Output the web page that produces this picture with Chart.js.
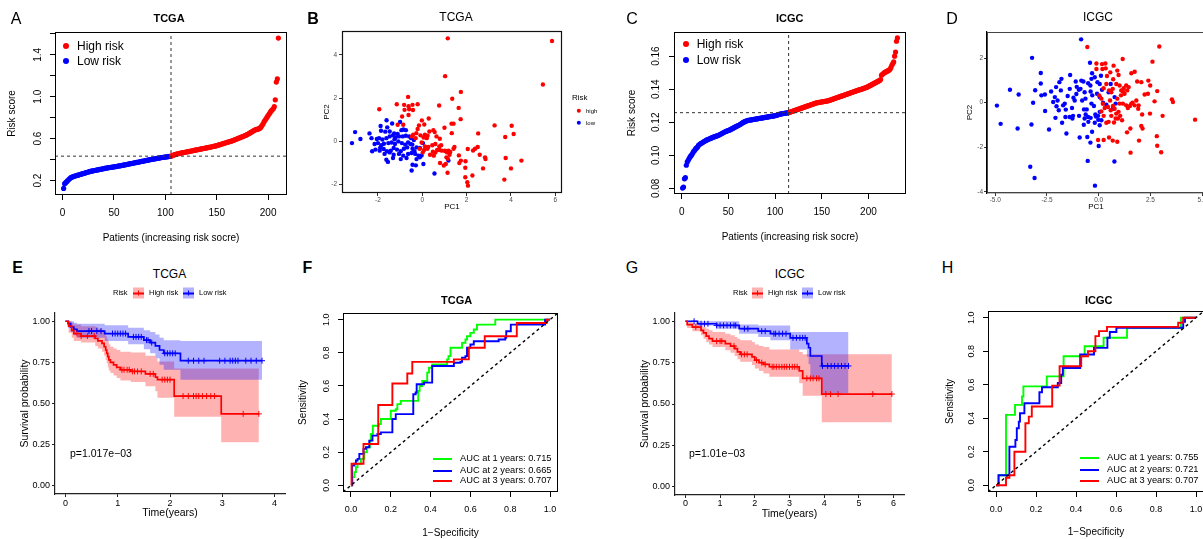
<!DOCTYPE html>
<html>
<head>
<meta charset="utf-8">
<title>Risk model panels</title>
<script src="https://cdn.jsdelivr.net/npm/chart.js@4.4.0/dist/chart.umd.min.js"></script>
<style>
  body { margin:0; width:1203px; height:539px; overflow:hidden; background:#fff; position:relative;
         font-family:"Liberation Sans", Arial, sans-serif; color:#000; }
  canvas { position:absolute; }
  .c { position:absolute; transform:translate(-50%,-50%); white-space:nowrap; line-height:1; }
  .l { position:absolute; transform:translateY(-50%); white-space:nowrap; line-height:1; }
  .let { font-size:16px; }
  .bt { font-size:11px; font-weight:bold; }
  .gt { font-size:12px; }
  .dot { position:absolute; border-radius:50%; transform:translate(-50%,-50%); }
  .key { position:absolute; width:11px; height:11px; transform:translateY(-50%); }
  .key i { position:absolute; left:0; right:0; top:5px; height:1.5px; }
  .key b { position:absolute; left:5px; top:3px; width:1px; height:5px; }
  .seg { position:absolute; width:19px; height:2px; }
</style>
</head>
<body>
<canvas id="cA"></canvas>
<canvas id="cB"></canvas>
<canvas id="cC"></canvas>
<canvas id="cD"></canvas>
<canvas id="cE"></canvas>
<canvas id="cF"></canvas>
<canvas id="cG"></canvas>
<canvas id="cH"></canvas>

<!-- panel letters -->
<div class="c let" style="left:16px;top:18.5px">A</div>
<div class="c let" style="left:313px;top:18.7px;font-weight:bold">B</div>
<div class="c let" style="left:632px;top:18.5px">C</div>
<div class="c let" style="left:952px;top:18.5px">D</div>
<div class="c let" style="left:17.5px;top:268px;font-weight:bold">E</div>
<div class="c let" style="left:307.5px;top:268px;font-weight:bold">F</div>
<div class="c let" style="left:632px;top:268px">G</div>
<div class="c let" style="left:947.5px;top:268px">H</div>

<!-- titles -->
<div class="c bt" style="left:169px;top:18px">TCGA</div>
<div class="c gt" style="left:456px;top:17.3px">TCGA</div>
<div class="c bt" style="left:789.7px;top:18px">ICGC</div>
<div class="c gt" style="left:1098px;top:17.3px">ICGC</div>
<div class="c gt" style="left:169.5px;top:274px">TCGA</div>
<div class="c bt" style="left:456.7px;top:300px">TCGA</div>
<div class="c gt" style="left:789.7px;top:274px">ICGC</div>
<div class="c bt" style="left:1098.7px;top:300px">ICGC</div>

<!-- A / C legends -->
<div class="dot" style="left:66px;top:45.7px;width:6px;height:6px;background:#f00"></div>
<div class="l" style="left:77px;top:46px;font-size:12px">High risk</div>
<div class="dot" style="left:66px;top:61px;width:6px;height:6px;background:#00f"></div>
<div class="l" style="left:77px;top:61px;font-size:12px">Low risk</div>
<div class="dot" style="left:685.7px;top:44.3px;width:6px;height:6px;background:#f00"></div>
<div class="l" style="left:696.7px;top:44.3px;font-size:12px">High risk</div>
<div class="dot" style="left:685.7px;top:60px;width:6px;height:6px;background:#00f"></div>
<div class="l" style="left:696.7px;top:60px;font-size:12px">Low risk</div>

<!-- B legend -->
<div class="l" style="left:572px;top:98px;font-size:8px">Risk</div>
<div class="dot" style="left:578.7px;top:111px;width:4.4px;height:4.4px;background:#f00"></div>
<div class="l" style="left:586px;top:111px;font-size:6px">high</div>
<div class="dot" style="left:578.7px;top:123px;width:4.4px;height:4.4px;background:#00f"></div>
<div class="l" style="left:586px;top:123px;font-size:6px">low</div>

<!-- E / G legends -->
<div class="l" style="left:113px;top:293px;font-size:7.5px">Risk</div>
<div class="key" style="left:133px;top:293px;background:rgba(255,0,0,0.3)"><i style="background:#f00"></i><b style="background:#f00"></b></div>
<div class="l" style="left:149px;top:293px;font-size:7.5px">High risk</div>
<div class="key" style="left:183px;top:293px;background:rgba(0,0,255,0.3)"><i style="background:#00f"></i><b style="background:#00f"></b></div>
<div class="l" style="left:199px;top:293px;font-size:7.5px">Low risk</div>
<div class="l" style="left:733px;top:293px;font-size:7.5px">Risk</div>
<div class="key" style="left:752px;top:293px;background:rgba(255,0,0,0.3)"><i style="background:#f00"></i><b style="background:#f00"></b></div>
<div class="l" style="left:768px;top:293px;font-size:7.5px">High risk</div>
<div class="key" style="left:802px;top:293px;background:rgba(0,0,255,0.3)"><i style="background:#00f"></i><b style="background:#00f"></b></div>
<div class="l" style="left:818px;top:293px;font-size:7.5px">Low risk</div>

<div class="l" style="left:70px;top:453px;font-size:10.5px">p=1.017e&minus;03</div>
<div class="l" style="left:689px;top:453px;font-size:10.5px">p=1.01e&minus;03</div>

<!-- ROC legends -->
<div class="seg" style="left:433px;top:458px;background:#0f0"></div>
<div class="l" style="left:460px;top:459px;font-size:9.3px">AUC at 1 years: 0.715</div>
<div class="seg" style="left:433px;top:470px;background:#00f"></div>
<div class="l" style="left:460px;top:470.7px;font-size:9.3px">AUC at 2 years: 0.665</div>
<div class="seg" style="left:433px;top:480px;background:#f00"></div>
<div class="l" style="left:460px;top:480.7px;font-size:9.3px">AUC at 3 years: 0.707</div>
<div class="seg" style="left:1080px;top:457px;background:#0f0"></div>
<div class="l" style="left:1107px;top:458px;font-size:9.3px">AUC at 1 years: 0.755</div>
<div class="seg" style="left:1080px;top:469px;background:#00f"></div>
<div class="l" style="left:1107px;top:470px;font-size:9.3px">AUC at 2 years: 0.721</div>
<div class="seg" style="left:1080px;top:480px;background:#f00"></div>
<div class="l" style="left:1107px;top:480.7px;font-size:9.3px">AUC at 3 years: 0.707</div>

<script>
// ---------- A: TCGA risk score (sorted) ----------
var aRisk = [
  0.125,0.17,0.18,0.19,0.20,0.21,0.22,0.228,0.232,0.236,
  0.24,0.243,0.246,0.249,0.252,0.255,0.258,0.261,0.264,0.267,
  0.27,0.273,0.276,0.279,0.282,0.285,0.288,0.29,0.292,0.294,
  0.296,0.298,0.3,0.302,0.304,0.306,0.308,0.31,0.312,0.314,
  0.316,0.318,0.32,0.322,0.323,0.325,0.326,0.328,0.329,0.331,
  0.333,0.334,0.336,0.338,0.34,0.341,0.343,0.345,0.347,0.349,
  0.351,0.353,0.355,0.357,0.359,0.361,0.363,0.365,0.367,0.369,
  0.371,0.373,0.375,0.377,0.379,0.381,0.383,0.385,0.387,0.389,
  0.391,0.393,0.395,0.397,0.399,0.401,0.403,0.405,0.406,0.408,
  0.41,0.412,0.414,0.415,0.417,0.419,0.42,0.422,0.423,0.425,
  0.426,0.428,0.429,0.431,0.432,0.435,0.439,0.443,0.447,0.45,
  0.453,0.456,0.458,0.46,0.462,0.464,0.466,0.468,0.47,0.472,
  0.474,0.476,0.478,0.48,0.482,0.484,0.486,0.488,0.49,0.492,
  0.494,0.496,0.498,0.5,0.502,0.504,0.506,0.508,0.51,0.512,
  0.514,0.516,0.518,0.52,0.522,0.524,0.526,0.528,0.531,0.534,
  0.537,0.54,0.543,0.546,0.549,0.552,0.555,0.558,0.561,0.564,
  0.567,0.57,0.573,0.576,0.579,0.583,0.587,0.591,0.595,0.599,
  0.603,0.607,0.611,0.615,0.619,0.623,0.627,0.631,0.636,0.641,
  0.646,0.652,0.658,0.664,0.67,0.676,0.682,0.686,0.688,0.69,
  0.695,0.70,0.71,0.725,0.74,0.76,0.775,0.79,0.805,0.82,
  0.835,0.85,0.865,0.875,0.885,0.905,0.97,1.14,1.17,1.56
];
var aCut = 105;          // patients 1..105 low risk
var aCutLine = [105.5, 0.433];
var aXTicks = [0, 50, 100, 150, 200];
var aXLabels = ['0', '50', '100', '150', '200'];
var aYTicks = [0.2, 0.4, 0.6, 0.8, 1.0, 1.2, 1.4, 1.6];
var aYLabels = ['0.2', '', '0.6', '', '1.0', '', '1.4', ''];

// ---------- C: ICGC risk score (sorted) ----------
var cRisk = [
  0.0802,0.0808,0.0858,0.0865,0.0940,0.0960,0.0970,0.0980,0.0990,0.0998,
  0.1005,0.1015,0.1025,0.1030,0.1040,0.1045,0.1050,0.1060,0.1065,0.1070,
  0.1073,0.1076,0.1080,0.1083,0.1086,0.1090,0.1093,0.1095,0.1098,0.1100,
  0.1102,0.1105,0.1108,0.1110,0.1112,0.1114,0.1116,0.1118,0.1120,0.1123,
  0.1126,0.1129,0.1132,0.1135,0.1138,0.1141,0.1144,0.1146,0.1148,0.1150,
  0.1152,0.1155,0.1158,0.1161,0.1164,0.1167,0.1170,0.1173,0.1176,0.1179,
  0.1182,0.1185,0.1188,0.1192,0.1196,0.1199,0.1202,0.1205,0.1207,0.1209,
  0.1211,0.1212,0.1213,0.1214,0.1215,0.1216,0.1217,0.1218,0.1219,0.1220,
  0.1221,0.1222,0.1223,0.1224,0.1225,0.1226,0.1227,0.1228,0.1229,0.1230,
  0.1231,0.1232,0.1233,0.1234,0.1235,0.1236,0.1237,0.1238,0.1239,0.1240,
  0.1241,0.1243,0.1245,0.1247,0.1249,0.1250,0.1251,0.1252,0.1253,0.1254,
  0.1255,0.1256,0.1257,0.1258,0.1259,0.1261,0.1263,0.1265,0.1267,0.1269,
  0.1271,0.1273,0.1275,0.1277,0.1279,0.1281,0.1283,0.1285,0.1287,0.1289,
  0.1291,0.1293,0.1295,0.1297,0.1299,0.1301,0.1303,0.1305,0.1307,0.1309,
  0.1311,0.1313,0.1315,0.1317,0.1318,0.1319,0.1320,0.1321,0.1322,0.1323,
  0.1324,0.1325,0.1326,0.1327,0.1328,0.1329,0.1330,0.1332,0.1334,0.1336,
  0.1338,0.1340,0.1342,0.1344,0.1346,0.1348,0.1350,0.1352,0.1354,0.1356,
  0.1358,0.1360,0.1362,0.1364,0.1366,0.1368,0.1370,0.1372,0.1374,0.1376,
  0.1378,0.1380,0.1382,0.1384,0.1386,0.1388,0.1390,0.1392,0.1394,0.1396,
  0.1397,0.1399,0.1401,0.1403,0.1405,0.1407,0.1409,0.1411,0.1414,0.1417,
  0.1420,0.1423,0.1426,0.1429,0.1432,0.1435,0.1438,0.1441,0.1444,0.1447,
  0.1450,0.1453,0.1458,0.1485,0.1490,0.1495,0.1500,0.1503,0.1506,0.1509,
  0.1512,0.1515,0.1520,0.1530,0.1545,0.1555,0.1565,0.1600,0.1625,0.1690,0.1710
];
var cCut = 115;
var cCutLine = [114.5, 0.1258];
var cXTicks = [0, 50, 100, 150, 200];
var cXLabels = ['0', '50', '100', '150', '200'];
var cYTicks = [0.08, 0.10, 0.12, 0.14, 0.16];
var cYLabels = ['0.08', '0.10', '0.12', '0.14', '0.16'];

// ---------- B: TCGA PCA ----------
var bHigh = [[1.15,4.77],[5.85,4.65],[5.44,2.63],[1.03,3.02],[1.74,2.29],[1.35,1.97],[0.76,1.66],[1.64,1.55],[1.73,1.03],
  [1.32,0.82],[1.41,0.82],[1.33,0.38],[1.0,0.63],[3.26,0.74],[4.03,0.72],[3.74,0.2],[4.12,0.34],[2.52,0.37],[4.47,-0.89],
  [3.76,-0.77],[4.0,-1.25],[3.7,-1.77],[2.74,-1.25],[2.83,-0.74],[2.85,-0.82],[2.59,-0.62],[2.5,-0.26],[2.38,-0.34],
  [2.29,-0.42],[2.05,-0.35],[2.26,-1.58],[1.94,-1.22],[1.94,-1.66],[2.03,-1.89],[2.06,-2.05],[1.74,-0.89],[1.67,-1.0],
  [1.95,-0.92],[1.65,-0.65],[1.45,-0.26],[1.41,-0.34],[1.12,-0.51],[1.05,-0.46],[1.02,-0.43],[0.88,-0.43],[0.77,-0.4],
  [1.18,-0.43],[1.26,-0.49],[0.8,-1.0],[1.06,-1.05],[0.97,-1.12],[1.14,-1.45],[1.09,-0.74],[1.23,-0.62],[1.15,-0.8],
  [-0.59,1.49],[-0.64,2.06],[-1.15,1.72],[-0.82,1.69],[-0.62,1.63],[-0.44,1.69],[-0.21,1.72],[-0.8,1.46],[-0.42,1.45],
  [-1.94,1.49],[-0.91,1.15],[-0.62,1.22],[-1.11,0.77],[-0.86,0.77],[-0.02,0.97],[0.09,0.78],[-0.15,0.74],[0.29,1.06],
  [-0.21,0.57],[-0.27,0.38],[-0.41,0.31],[-0.47,0.23],[-0.08,0.28],[-0.3,0.15],[0.12,0.31],[0.24,0.26],[0.2,0.15],
  [0.06,0.18],[0.32,0.46],[0.5,0.52],[0.79,0.12],[0.64,0.23],[0.56,0.43],[-0.03,-0.05],[0.12,-0.23],[0.27,-0.26],
  [0.45,-0.18],[0.59,-0.12],[0.08,-0.4],[0.23,-0.34],[0.35,-0.62],[0.48,-0.48],[0.59,-0.52],[0.67,-0.4],[0.52,-0.66],
  [0.02,-0.51],[-0.12,-0.34],[0.77,-0.23],[0.85,-0.18]];
var bLow = [[-3.17,-0.08],[-3.03,0.43],[-2.79,0.11],[-2.38,0.37],[-2.29,0.15],[-1.88,0.71],[-1.86,0.49],[-1.67,0.45],
  [-1.58,0.65],[-1.61,0.98],[-1.36,0.83],[-1.47,0.46],[-1.27,0.37],[-1.11,0.34],[-0.94,0.52],[-2.05,0.11],[-1.95,0.15],
  [-1.8,0.09],[-1.62,0.15],[-1.47,0.23],[-1.32,0.28],[-1.21,0.18],[-1.05,0.23],[-0.88,0.23],[-0.74,0.26],[-0.59,0.23],
  [-0.5,0.15],[-0.38,0.06],[-2.15,-0.12],[-2.0,-0.08],[-1.85,-0.18],[-1.73,-0.11],[-1.53,-0.08],[-1.38,-0.05],
  [-1.23,-0.12],[-1.08,0.0],[-0.92,-0.08],[-0.77,-0.15],[-0.64,-0.05],[-0.53,-0.12],[-2.26,-0.46],[-2.11,-0.38],
  [-1.92,-0.43],[-1.74,-0.35],[-1.59,-0.46],[-1.42,-0.43],[-1.29,-0.31],[-1.14,-0.38],[-0.97,-0.46],[-0.83,-0.34],
  [-0.68,-0.28],[-0.44,-0.34],[-0.26,-0.28],[-0.11,-0.31],[0.03,-0.08],[-1.7,-0.58],[-1.47,-0.51],[-1.29,-0.62],
  [-1.05,-0.58],[-0.86,-0.66],[-0.64,-0.58],[-0.48,-0.54],[-0.32,-0.58],[-0.17,-0.66],[-0.03,-0.65],[-1.62,-0.85],
  [-1.55,-0.95],[-1.32,-0.77],[-0.97,-0.82],[-0.71,-0.77],[-0.26,-0.82],[-0.11,-0.74],[-0.44,-1.08],[-0.29,-1.11],
  [0.05,-1.05],[-0.48,-1.35],[0.55,-1.49],[1.18,-0.89],[-0.74,0.52],[-1.0,0.9],[-0.85,0.55],[-1.25,0.1],[-0.45,-0.15],
  [-1.9,-0.3],[-0.35,-0.45]];
var bXTicks = [-2, 0, 2, 4, 6], bXLabels = ['-2', '0', '2', '4', '6'];
var bYTicks = [-2, 0, 2, 4], bYLabels = ['-2', '0', '2', '4'];

// ---------- D: ICGC PCA ----------
var dLow = [[-0.85,2.84],[-3.22,2.01],[-4.92,-0.13],[-4.74,-0.95],[-4.29,0.58],[-3.87,0.37],[-3.92,-1.16],[-3.25,-0.98],
  [-3.17,0.0],[-3.07,0.56],[-3.31,-2.87],[-3.1,-3.38],[-2.8,1.33],[-2.8,0.86],[-2.77,0.33],[-2.6,0.37],[-2.59,-0.37],
  [-2.4,-1.2],[-2.09,-0.68],[-2.04,-0.16],[-2.2,0.03],[-2.12,0.25],[-1.99,0.1],[-2.06,0.7],[-1.9,0.92],[-1.8,1.07],
  [-1.83,0.55],[-1.72,-0.12],[-1.64,-0.04],[-1.93,-0.34],[-1.77,-0.9],[-1.56,-1.38],[-1.61,-0.64],[-1.59,-0.31],
  [-1.4,0.62],[-1.38,1.24],[-1.29,-0.24],[-1.22,0.22],[-1.16,0.1],[-1.11,0.95],[-1.06,0.71],[-1.08,0.39],[-1.24,-0.59],
  [-1.41,-0.64],[-1.27,-0.71],[-0.92,-1.56],[-0.95,-0.59],[-0.96,0.58],[-0.88,0.62],[-0.84,0.99],[-0.74,0.95],
  [-0.68,0.47],[-0.64,0.18],[-0.71,-0.3],[-0.63,-0.53],[-0.72,-0.99],[-0.68,-0.71],[-0.51,0.87],[-0.4,0.77],[-0.32,1.32],
  [-0.35,1.07],[-0.39,0.5],[-0.31,0.33],[-0.23,-0.15],[-0.35,-0.04],[-0.58,-0.3],[-0.51,-0.64],[-0.5,-0.86],[-0.39,-0.68],
  [-0.32,-1.3],[-0.19,-0.9],[-0.13,-0.62],[-0.16,-0.53],[-0.03,-0.59],[0.05,-1.01],[-0.02,-0.77],[-0.55,-1.54],
  [-0.53,-2.61],[-0.4,-1.79],[0.0,-1.94],[-0.18,-3.72],[0.76,-2.64],[-0.42,1.79],[-0.19,1.14],[-0.06,0.92],[0.05,0.84],
  [0.11,1.21],[0.16,0.58],[-0.08,0.4],[0.05,0.25],[0.21,0.0],[0.37,-0.09],[0.48,0.47],[0.58,0.84],[0.77,0.25],
  [0.82,-0.04],[0.68,-0.27],[0.05,-0.41],[0.13,-0.79],[-2.3,0.5],[-1.5,0.3],[-0.8,0.1]];
var dHigh = [[-0.55,2.5],[2.93,2.52],[1.16,1.96],[2.6,1.84],[-0.11,1.76],[-0.11,1.51],[0.18,1.51],[0.34,1.54],[0.56,1.36],
  [0.72,1.66],[0.9,1.44],[0.96,1.24],[0.32,1.76],[0.16,1.73],[1.58,1.32],[1.74,1.39],[1.86,0.95],[2.06,0.92],[2.4,0.99],
  [2.49,0.77],[2.22,0.37],[2.38,0.4],[2.83,0.52],[3.54,0.15],[3.59,0.03],[3.09,-0.59],[2.7,0.06],[2.48,-0.49],[2.1,-0.53],
  [1.91,-0.27],[1.74,-0.12],[1.58,-0.04],[4.66,-0.76],[2.81,-1.5],[2.83,-1.93],[3.02,-2.22],[1.54,-2.24],[1.95,-1.7],
  [2.06,-1.04],[2.12,-1.16],[1.53,-1.16],[1.37,-1.33],[0.9,-1.75],[0.68,-1.7],[-0.03,-1.67],[0.24,-1.67],[0.5,-1.56],
  [0.02,0.33],[0.13,0.18],[0.24,0.65],[0.37,0.84],[0.5,0.55],[0.61,0.47],[0.68,0.62],[0.85,0.84],[1.01,0.77],[1.09,0.55],
  [1.17,0.5],[1.21,0.65],[1.33,0.77],[1.38,0.55],[1.45,0.7],[1.25,0.4],[1.08,0.33],[0.9,0.18],[0.29,-0.24],[0.45,-0.19],
  [0.58,-0.34],[0.69,-0.15],[0.77,-0.27],[0.85,-0.49],[0.96,-0.41],[0.93,-0.71],[1.04,-0.59],[1.13,-0.79],[0.82,-0.71],
  [0.74,-0.89],[0.48,-0.86],[0.37,-0.9],[0.61,-0.59],[0.24,-0.59],[0.13,-0.39],[1.01,-0.04],[1.17,-0.04],[1.33,-0.12],
  [1.41,-0.24],[1.51,-0.15],[1.64,0.0],[1.82,0.1],[1.93,-0.12],[0.4,1.2],[0.7,1.05],[0.2,-0.05],[0.55,0.1]];
var dXTicks = [-5, -2.5, 0, 2.5, 5], dXLabels = ['-5.0', '-2.5', '0.0', '2.5', '5.0'];
var dYTicks = [-4, -2, 0, 2], dYLabels = ['-4', '-2', '0', '2'];

// ---------- E: TCGA Kaplan-Meier ----------
var eHighT  = [0,0.06,0.12,0.16,0.3,0.57,0.62,0.70,0.74,0.77,0.79,0.81,0.83,0.86,0.92,0.98,1.05,1.25,1.53,1.72,1.76,2.08,2.98];
var eHighS  = [1,0.97,0.945,0.925,0.91,0.895,0.88,0.865,0.845,0.825,0.805,0.785,0.765,0.75,0.735,0.72,0.705,0.695,0.68,0.66,0.645,0.545,0.437];
var eHighUp = [1,1,0.99,0.98,0.97,0.965,0.955,0.945,0.93,0.91,0.895,0.88,0.86,0.845,0.835,0.825,0.815,0.81,0.79,0.775,0.755,0.713,0.713];
var eHighLo = [1,0.93,0.9,0.88,0.87,0.85,0.835,0.815,0.79,0.765,0.745,0.72,0.7,0.685,0.67,0.655,0.64,0.63,0.605,0.575,0.535,0.42,0.265];
var eHighEnd = 3.7;
var eHighCens = [0.22,0.3,0.42,0.55,1.08,1.12,1.18,1.22,1.28,1.32,1.38,1.45,1.62,1.68,1.85,1.9,1.95,2.0,2.25,2.35,2.45,2.5,2.55,2.62,2.7,2.78,2.85,3.4,3.7];
var eLowT  = [0,0.05,0.1,0.16,0.22,0.75,1.2,1.5,1.62,1.72,1.8,1.88,2.2];
var eLowS  = [1,0.985,0.965,0.95,0.94,0.925,0.905,0.885,0.87,0.85,0.825,0.805,0.76];
var eLowUp = [1,1,1,0.99,0.985,0.975,0.96,0.945,0.935,0.92,0.9,0.885,0.88];
var eLowLo = [1,0.96,0.935,0.915,0.9,0.88,0.86,0.83,0.805,0.775,0.735,0.705,0.645];
var eLowEnd = 3.76;
var eLowCens = [0.45,0.5,0.6,0.68,0.9,0.95,1.0,1.05,1.1,1.15,1.3,1.35,1.4,1.45,1.55,1.58,1.65,1.9,1.95,2.0,2.05,2.1,2.35,2.45,2.55,2.65,2.95,3.05,3.15,3.2,3.25,3.3,3.45,3.55,3.65,3.76];
var eXTicks = [0, 1, 2, 3, 4], eXLabels = ['0', '1', '2', '3', '4'];
var survTicks = [0, 0.25, 0.5, 0.75, 1], survLabels = ['0.00', '0.25', '0.50', '0.75', '1.00'];

// ---------- G: ICGC Kaplan-Meier ----------
var gHighT  = [0,0.05,0.2,0.45,0.52,0.6,0.68,0.78,1.15,1.3,1.42,1.5,1.58,1.92,2.0,2.12,2.25,2.42,3.28,3.38,3.93];
var gHighS  = [1,0.98,0.965,0.945,0.93,0.91,0.895,0.88,0.865,0.85,0.835,0.815,0.8,0.785,0.765,0.75,0.74,0.725,0.7,0.655,0.56];
var gHighUp = [1,1,0.99,0.975,0.965,0.955,0.945,0.935,0.925,0.915,0.905,0.895,0.885,0.875,0.86,0.85,0.845,0.83,0.815,0.8,0.8];
var gHighLo = [1,0.96,0.94,0.915,0.895,0.875,0.86,0.845,0.825,0.81,0.79,0.77,0.755,0.735,0.715,0.7,0.685,0.665,0.625,0.55,0.39];
var gHighEnd = 5.95;
var gHighCens = [0.3,0.9,1.0,1.05,1.4,1.62,1.7,1.78,2.05,2.2,2.3,2.5,2.55,2.62,2.7,2.78,2.85,2.92,3.0,3.08,3.15,3.22,3.5,3.6,3.68,3.78,3.85,4.05,4.18,4.4,5.4,5.95];
var gLowT  = [0,0.35,0.9,1.55,2.1,2.45,3.02,3.5,3.55,3.6,3.93];
var gLowS  = [1,0.985,0.975,0.955,0.94,0.925,0.9,0.865,0.84,0.79,0.73];
var gLowUp = [1,1,1,0.98,0.975,0.975,0.935,0.935,0.935,0.935,0.935];
var gLowLo = [1,0.975,0.955,0.925,0.905,0.885,0.83,0.785,0.74,0.655,0.565];
var gLowEnd = 4.7;
var gLowCens = [0.25,0.45,0.55,0.65,0.9,1.0,1.1,1.2,1.3,1.4,1.45,1.7,1.8,2.2,2.3,2.55,2.6,2.7,2.8,2.9,3.1,3.2,3.3,3.38,3.45,3.95,4.1,4.2,4.3,4.4,4.5,4.6,4.7];
var gXTicks = [0, 1, 2, 3, 4, 5, 6], gXLabels = ['0', '1', '2', '3', '4', '5', '6'];

// ---------- F: TCGA time-dependent ROC ----------
var fFpr1 = [0,0.008,0.017,0.025,0.033,0.05,0.067,0.08,0.095,0.1,0.11,0.14,0.15,0.195,0.2,0.225,0.233,0.25,0.333,0.338,0.345,0.358,0.378,0.383,0.392,0.408,0.475,0.483,0.49,0.5,0.55,0.558,0.575,0.583,0.6,0.617,0.633,0.717,0.725,1];
var fTpr1 = [0,0.05,0.08,0.11,0.13,0.16,0.2,0.23,0.27,0.31,0.36,0.37,0.4,0.4,0.45,0.46,0.49,0.51,0.51,0.57,0.6,0.63,0.63,0.68,0.71,0.73,0.73,0.76,0.78,0.83,0.83,0.86,0.88,0.9,0.92,0.94,0.97,0.97,1,1];
var fFpr2 = [0,0.005,0.017,0.025,0.033,0.042,0.058,0.063,0.075,0.092,0.108,0.133,0.15,0.2,0.208,0.225,0.313,0.325,0.33,0.367,0.408,0.5,0.517,0.55,0.558,0.575,0.583,0.6,0.617,0.742,0.775,0.78,0.8,0.803,0.975,1];
var fTpr2 = [0,0.12,0.13,0.15,0.16,0.19,0.19,0.22,0.23,0.27,0.3,0.31,0.32,0.32,0.4,0.43,0.55,0.56,0.61,0.62,0.72,0.72,0.74,0.745,0.77,0.78,0.83,0.85,0.87,0.88,0.89,0.93,0.93,0.97,1,1];
var fFpr3 = [0,0.003,0.063,0.137,0.208,0.283,0.308,0.517,0.592,0.672,0.833,0.983,1];
var fTpr3 = [0,0.13,0.25,0.485,0.615,0.675,0.745,0.76,0.83,0.9,0.98,1,1];

// ---------- H: ICGC time-dependent ROC ----------
var hFpr1 = [0,0.012,0.05,0.095,0.13,0.137,0.254,0.338,0.443,0.538,0.655,0.925,1];
var hTpr1 = [0,0.06,0.42,0.48,0.53,0.59,0.65,0.77,0.83,0.88,0.94,1,1];
var hFpr2 = [0,0.013,0.067,0.092,0.097,0.104,0.114,0.12,0.142,0.217,0.23,0.309,0.326,0.334,0.421,0.49,0.557,0.569,0.602,0.936,0.945,1];
var hTpr2 = [0,0.06,0.23,0.23,0.27,0.34,0.38,0.43,0.49,0.555,0.585,0.61,0.66,0.7,0.78,0.82,0.88,0.915,0.94,0.975,1,1];
var hFpr3 = [0,0.047,0.05,0.067,0.092,0.147,0.164,0.179,0.281,0.318,0.426,0.46,0.497,0.515,0.555,0.911,0.936,1];
var hTpr3 = [0,0,0.045,0.06,0.2,0.37,0.41,0.47,0.595,0.71,0.77,0.8,0.89,0.92,0.945,0.97,1,1];
var rocTicks = [0, 0.2, 0.4, 0.6, 0.8, 1], rocLabels = ['0.0', '0.2', '0.4', '0.6', '0.8', '1.0'];

var RED = '#ff0000', BLUE = '#0000ff', GREEN = '#00ff00';

Chart.defaults.font.family = '"Liberation Sans", Arial, sans-serif';
Chart.defaults.color = '#000';
Chart.defaults.animation = false;
Chart.defaults.events = [];

// frame around the plot region
var boxPlugin = {
  id: 'box',
  afterDatasetsDraw: function (chart, args, opts) {
    var a = chart.chartArea, ctx = chart.ctx;
    ctx.save();
    ctx.strokeStyle = opts.color || '#000';
    ctx.lineWidth = opts.width || 1;
    ctx.strokeRect(Math.round(a.left) + 0.5, Math.round(a.top) + 0.5,
                   Math.round(a.right - a.left) - 1, Math.round(a.bottom - a.top) - 1);
    ctx.restore();
  }
};

function axis(o, isY, size) {
  return {
    type: 'linear', position: isY ? 'left' : 'bottom',
    min: o.min, max: o.max, bounds: 'data',
    afterBuildTicks: function (s) { s.ticks = o.ticks.map(function (v) { return {value: v}; }); },
    afterFit: function (s) { if (isY) { s.width = size; } else { s.height = size; } },
    border: {display: !!o.line, color: o.line || '#000', width: o.lw || 1},
    grid: {drawOnChartArea: false, drawTicks: true, tickLength: o.tl, tickWidth: 1,
           tickColor: o.tc || '#000', color: 'rgba(0,0,0,0)'},
    ticks: {autoSkip: false, padding: o.pad, color: o.lc || '#000', font: {size: o.fs},
            minRotation: o.rot || 0, maxRotation: o.rot || 0, crossAlign: o.cross || 'near',
            callback: function (v, i) { return o.labels[i]; }},
    title: {display: true, text: o.title, color: '#000', font: {size: o.tfs}, padding: 0}
  };
}

function panel(id, area, cfg) {
  var padT = 16, padR = 30;
  var cv = document.getElementById(id);
  cv.width = area[2] - area[0] + cfg.wy + padR;
  cv.height = area[3] - area[1] + padT + cfg.hx;
  cv.style.left = (area[0] - cfg.wy) + 'px';
  cv.style.top = (area[1] - padT) + 'px';
  return new Chart(cv, {
    type: cfg.type,
    data: {datasets: cfg.datasets},
    options: {
      responsive: false, animation: false,
      layout: {padding: {top: padT, right: padR, left: 0, bottom: 0}},
      scales: {x: axis(cfg.x, false, cfg.hx), y: axis(cfg.y, true, cfg.wy)},
      plugins: {legend: {display: false}, tooltip: {enabled: false}, box: cfg.box || {}}
    },
    plugins: cfg.box ? [boxPlugin] : []
  });
}

function pairs(list) { return list.map(function (p) { return {x: p[0], y: p[1]}; }); }
function zipXY(xs, ys) { return xs.map(function (v, i) { return {x: v, y: ys[i]}; }); }
function steps(t, s, end) {
  var pts = zipXY(t, s);
  pts.push({x: end, y: s[s.length - 1]});
  return pts;
}
function censorPts(times, t, s) {
  return times.map(function (c) {
    var v = s[0];
    for (var i = 0; i < t.length; i++) { if (t[i] <= c) { v = s[i]; } }
    return {x: c, y: v};
  });
}
function kmSets(t, s, up, lo, end, cens, col, fillCol, bandOrder) {
  return [
    {data: steps(t, up, end), stepped: true, borderWidth: 0, borderColor: 'rgba(0,0,0,0)', pointRadius: 0, fill: false, order: bandOrder},
    {data: steps(t, lo, end), stepped: true, borderWidth: 0, borderColor: 'rgba(0,0,0,0)', pointRadius: 0, fill: '-1', backgroundColor: fillCol, order: bandOrder},
    {data: steps(t, s, end), stepped: true, borderColor: col, borderWidth: 1.7, pointRadius: 0, fill: false, order: 1},
    {data: censorPts(cens, t, s), showLine: false, pointStyle: 'cross', pointRadius: 3, pointBorderWidth: 1,
     borderColor: col, pointBorderColor: col, order: 0}
  ];
}
function rocSet(fpr, tpr, col, ord) {
  return {data: zipXY(fpr, tpr), stepped: true, borderColor: col, borderWidth: 1.9, pointRadius: 0, fill: false, order: ord};
}
function riskSets(risk, cut, cutLine, xr, yr, r) {
  var low = [], high = [];
  risk.forEach(function (v, i) { (i < cut ? low : high).push({x: i + 1, y: v}); });
  var dash = {showLine: true, borderColor: '#333', borderWidth: 1, borderDash: [3, 3], pointRadius: 0, order: 0};
  return [
    Object.assign({data: [{x: xr[0], y: cutLine[1]}, {x: xr[1], y: cutLine[1]}]}, dash),
    Object.assign({data: [{x: cutLine[0], y: yr[0]}, {x: cutLine[0], y: yr[1]}]}, dash),
    {data: high, pointRadius: r, pointBackgroundColor: RED, backgroundColor: RED, pointBorderWidth: 0, order: 1},
    {data: low, pointRadius: r, pointBackgroundColor: BLUE, backgroundColor: BLUE, pointBorderWidth: 0, order: 1}
  ];
}

// A
panel('cA', [55, 32, 287, 195], {
  type: 'scatter', wy: 49, hx: 49, box: {color: '#000', width: 1},
  datasets: riskSets(aRisk, aCut, aCutLine, [-7.4, 218.4], [0.0624, 1.6176], 2.6),
  x: {min: -7.4, max: 218.4, ticks: aXTicks, labels: aXLabels, tl: 5, pad: 7, fs: 10, title: 'Patients (increasing risk socre)', tfs: 10},
  y: {min: 0.0624, max: 1.6176, ticks: aYTicks, labels: aYLabels, tl: 5, pad: 5, fs: 10, rot: 90, cross: 'center', title: 'Risk score', tfs: 10}
});

// C
panel('cC', [674, 32, 906, 194], {
  type: 'scatter', wy: 48, hx: 49, box: {color: '#000', width: 1},
  datasets: riskSets(cRisk, cCut, cCutLine, [-8.2, 240.2], [0.0766, 0.1746], 2.6),
  x: {min: -8.2, max: 240.2, ticks: cXTicks, labels: cXLabels, tl: 5, pad: 7, fs: 10, title: 'Patients (increasing risk socre)', tfs: 10},
  y: {min: 0.0766, max: 0.1746, ticks: cYTicks, labels: cYLabels, tl: 5, pad: 2.6, fs: 10, rot: 90, cross: 'center', title: 'Risk score', tfs: 10}
});

// B
panel('cB', [342, 31, 562, 193], {
  type: 'scatter', wy: 20, hx: 19, box: {color: '#111', width: 1.2},
  datasets: [
    {data: pairs(bHigh), pointRadius: 2.2, pointBackgroundColor: RED, backgroundColor: RED, pointBorderWidth: 0},
    {data: pairs(bLow), pointRadius: 2.2, pointBackgroundColor: BLUE, backgroundColor: BLUE, pointBorderWidth: 0}
  ],
  x: {min: -3.62, max: 6.3, ticks: bXTicks, labels: bXLabels, tl: 3, tc: '#333', pad: 0, fs: 6.5, lc: '#4d4d4d', title: 'PC1', tfs: 8},
  y: {min: -2.39, max: 5.11, ticks: bYTicks, labels: bYLabels, tl: 3, tc: '#333', pad: 2, fs: 6.5, lc: '#4d4d4d', title: 'PC2', tfs: 8}
});

// D
panel('cD', [987, 32, 1205, 193], {
  type: 'scatter', wy: 22, hx: 19, box: {color: '#444', width: 1},
  datasets: [
    {data: pairs(dHigh), pointRadius: 2.2, pointBackgroundColor: RED, backgroundColor: RED, pointBorderWidth: 0},
    {data: pairs(dLow), pointRadius: 2.2, pointBackgroundColor: BLUE, backgroundColor: BLUE, pointBorderWidth: 0}
  ],
  x: {min: -5.4, max: 5.14, ticks: dXTicks, labels: dXLabels, tl: 3, tc: '#333', pad: 0, fs: 6.5, lc: '#4d4d4d', title: 'PC1', tfs: 8, line: '#000', lw: 1.2},
  y: {min: -4.05, max: 3.17, ticks: dYTicks, labels: dYLabels, tl: 3, tc: '#333', pad: 1, fs: 6.5, lc: '#4d4d4d', title: 'PC2', tfs: 8, line: '#000', lw: 1.2}
});

// E
panel('cE', [55, 313, 285, 494], {
  type: 'line', wy: 36, hx: 25,
  datasets: kmSets(eHighT, eHighS, eHighUp, eHighLo, eHighEnd, eHighCens, RED, 'rgba(255,0,0,0.3)', 4)
    .concat(kmSets(eLowT, eLowS, eLowUp, eLowLo, eLowEnd, eLowCens, BLUE, 'rgba(0,0,255,0.3)', 3)),
  x: {min: -0.2, max: 4.2, ticks: eXTicks, labels: eXLabels, tl: 3, tc: '#222', pad: 1, fs: 9, title: 'Time(years)', tfs: 10.5, line: '#222', lw: 1.2},
  y: {min: -0.05, max: 1.05, ticks: survTicks, labels: survLabels, tl: 3, tc: '#222', pad: 2, fs: 9, title: 'Survival probability', tfs: 10.5, line: '#222', lw: 1.2}
});

// G
panel('cG', [675, 313, 904, 495], {
  type: 'line', wy: 36, hx: 25,
  datasets: kmSets(gHighT, gHighS, gHighUp, gHighLo, gHighEnd, gHighCens, RED, 'rgba(255,0,0,0.3)', 4)
    .concat(kmSets(gLowT, gLowS, gLowUp, gLowLo, gLowEnd, gLowCens, BLUE, 'rgba(0,0,255,0.3)', 3)),
  x: {min: -0.3, max: 6.3, ticks: gXTicks, labels: gXLabels, tl: 3, tc: '#222', pad: 0, fs: 9, title: 'Time(years)', tfs: 10.5, line: '#222', lw: 1.2},
  y: {min: -0.05, max: 1.05, ticks: survTicks, labels: survLabels, tl: 3, tc: '#222', pad: 2, fs: 9, title: 'Survival probability', tfs: 10.5, line: '#222', lw: 1.2}
});

// F
panel('cF', [343, 313, 558, 492], {
  type: 'line', wy: 46, hx: 47, box: {color: '#000', width: 1},
  datasets: [
    {data: [{x: -0.04, y: -0.04}, {x: 1.04, y: 1.04}], borderColor: '#000', borderDash: [3, 3], borderWidth: 1.4, pointRadius: 0, order: 0},
    rocSet(fFpr3, fTpr3, RED, 1), rocSet(fFpr2, fTpr2, BLUE, 2), rocSet(fFpr1, fTpr1, GREEN, 3)
  ],
  x: {min: -0.04, max: 1.04, ticks: rocTicks, labels: rocLabels, tl: 5, pad: 7, fs: 9, title: '1\u2212Specificity', tfs: 10},
  y: {min: -0.04, max: 1.04, ticks: rocTicks, labels: rocLabels, tl: 5, pad: 5, fs: 9, rot: 90, cross: 'center', title: 'Sensitivity', tfs: 10}
});

// H
panel('cH', [988, 311, 1204, 492], {
  type: 'line', wy: 44, hx: 46, box: {color: '#000', width: 1},
  datasets: [
    {data: [{x: -0.04, y: -0.04}, {x: 1.04, y: 1.04}], borderColor: '#000', borderDash: [3, 3], borderWidth: 1.4, pointRadius: 0, order: 0},
    rocSet(hFpr3, hTpr3, RED, 1), rocSet(hFpr2, hTpr2, BLUE, 2), rocSet(hFpr1, hTpr1, GREEN, 3)
  ],
  x: {min: -0.04, max: 1.04, ticks: rocTicks, labels: rocLabels, tl: 5, pad: 7, fs: 9, title: '1\u2212Specificity', tfs: 10},
  y: {min: -0.04, max: 1.04, ticks: rocTicks, labels: rocLabels, tl: 5, pad: 5, fs: 9, rot: 90, cross: 'center', title: 'Sensitivity', tfs: 10}
});
</script>
</body>
</html>
